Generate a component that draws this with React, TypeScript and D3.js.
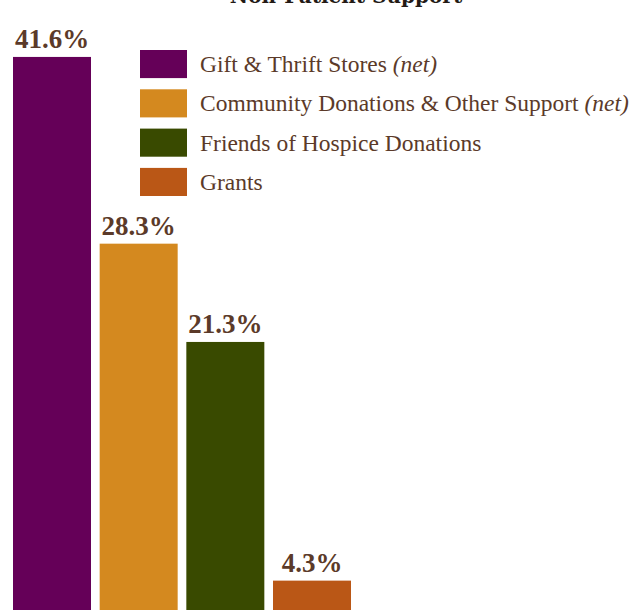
import React from "react";
import * as d3 from "d3";

const categories = [
  "Gift & Thrift Stores",
  "Community Donations & Other Support",
  "Friends of Hospice Donations",
  "Grants",
];
const netFlags = [true, true, false, false];
const values = [41.6, 28.3, 21.3, 4.3];
const colors = ["#650058", "#D4891F", "#394A00", "#BA5716"];
const title = "Non-Patient Support";

const W = 643;
const H = 610;
const TEXT = "#5B3A29";

export default function App() {
  const x = d3
    .scaleBand<string>()
    .domain(categories)
    .range([13, 351])
    .paddingInner(0.1)
    .paddingOuter(0);
  const y = d3.scaleLinear().domain([0, 45]).range([641, 9.2]);

  const legendY = d3
    .scaleBand<string>()
    .domain(categories)
    .range([50, 196])
    .paddingInner(0.285)
    .paddingOuter(0);

  return (
    <svg
      width={W}
      height={H}
      style={{ position: "absolute", left: 0, top: 0, background: "#fff" }}
    >
      <text
        x={346}
        y={3}
        textAnchor="middle"
        fontFamily="'DejaVu Serif', serif"
        fontWeight="bold"
        fontSize={20}
        fill="#231a15"
      >
        {title}
      </text>
      {categories.map((c, i) => (
        <g key={c}>
          <rect
            x={x(c)}
            y={y(values[i])}
            width={x.bandwidth()}
            height={H + 40 - y(values[i])}
            fill={colors[i]}
          />
          <text
            x={(x(c) as number) + x.bandwidth() / 2}
            y={y(values[i]) - 9}
            textAnchor="middle"
            fontFamily="'Liberation Serif', serif"
            fontWeight="bold"
            fontSize={27}
            fill={TEXT}
          >
            {values[i].toFixed(1)}%
          </text>
        </g>
      ))}
      {categories.map((c, i) => (
        <g key={"l" + c}>
          <rect
            x={140}
            y={legendY(c)}
            width={47}
            height={legendY.bandwidth()}
            fill={colors[i]}
          />
          <text
            x={200}
            y={(legendY(c) as number) + legendY.bandwidth() / 2 + 8}
            fontFamily="'Liberation Serif', serif"
            fontSize={23.5}
            fill={TEXT}
          >
            {c}
            {netFlags[i] ? (
              <tspan fontStyle="italic"> (net)</tspan>
            ) : null}
          </text>
        </g>
      ))}
    </svg>
  );
}
